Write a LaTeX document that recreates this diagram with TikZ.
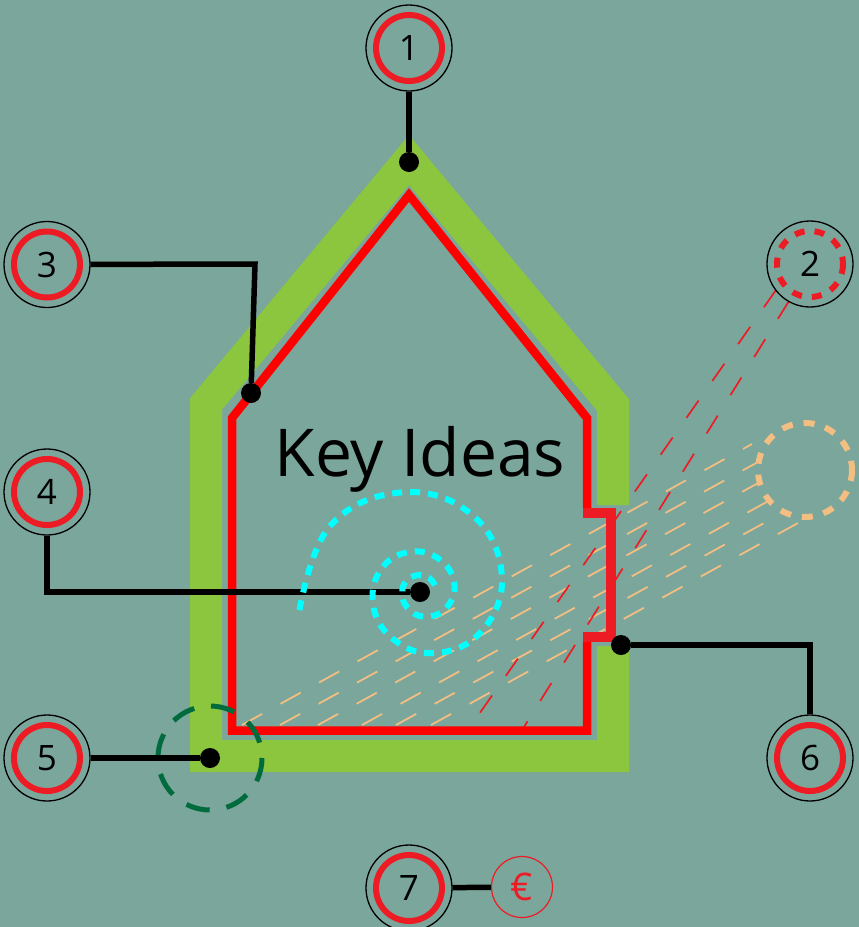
\documentclass[tikz,border=0pt]{standalone}
\usepackage{fontspec}
\setmainfont{Open Sans}
\definecolor{bg}{RGB}{123,166,156}
\definecolor{wallgreen}{RGB}{140,198,63}
\definecolor{housered}{RGB}{255,0,0}
\definecolor{ringred}{RGB}{237,28,36}
\definecolor{sand}{RGB}{242,190,130}
\definecolor{pine}{RGB}{0,107,60}
\definecolor{aqua}{RGB}{0,255,255}
\begin{document}
\begin{tikzpicture}[x=1pt,y=-1pt,
  wall/.style={draw=wallgreen, line width=32, line join=miter},
  outline/.style={draw=housered, line width=8.5, line join=miter},
  notchline/.style={draw=ringred, line width=10, line join=miter},
  sightred/.style={draw=ringred, line width=1.7, dash pattern=on 21 off 24},
  sightsand/.style={draw=sand, line width=1.8, dash pattern=on 23 off 21},
  badge/.style={circle, draw=black, line width=1.3, fill=bg, minimum size=86, inner sep=0,
    font=\fontsize{35}{35}\selectfont},
  ring/.style={draw=ringred, line width=6},
  dashring/.style={draw=ringred, line width=6, dash pattern=on 10 off 10},
  dot/.style={circle, fill=black, minimum size=20, inner sep=0},
  conn/.style={draw=black, line width=5.5},
  spiral/.style={draw=aqua, line width=6, dash pattern=on 10 off 8},
  euro/.style={circle, draw=ringred, line width=1.2, minimum size=61, inner sep=0,
    text=ringred, font=\fontsize{38}{38}\selectfont}]

% canvas
\fill[bg] (0,0) rectangle (859,927);
\useasboundingbox (0,0) rectangle (859,927);

% sand-coloured sight lines towards the right-hand circle
\draw[sightsand] (242,725) -- (752,444);
\draw[sightsand] (280,725) -- (758,462);
\draw[sightsand] (318,725) -- (760,482);
\draw[sightsand] (362,725) -- (772,499);
\draw[sightsand] (396,725) -- (786,511);
\draw[sightsand] (431,725) -- (798,523);

% red sight lines from marker 2
\draw[sightred] (776,290) -- (470,727);
\draw[sightred] (789,301) -- (524,727);

% outer wall band, open at the window
\draw[wall] (613,646) -- (613,756) -- (206,756) -- (206,404) -- (409,160) -- (613,405) -- (613,505);

% inner house outline
\draw[outline] (587,508) -- (587,418) -- (409,195) -- (232,418) -- (232,730.5) -- (587,730.5) -- (587,642);
\draw[notchline] (583,513) -- (610.5,513) -- (610.5,637) -- (583,637);

% dashed circles
\draw[pine, line width=5, dash pattern=on 24 off 17] (210,758) circle (52);
\draw[sand, line width=6, dash pattern=on 11 off 11] (805,470) circle (47);

% title
\node[anchor=base, font=\fontsize{66}{66}\selectfont] (title) at (420,476) {Key Ideas};

% numbered markers
\node[badge] (b1) at (409,48) {1};
\node[badge] (b2) at (810,264) {2};
\node[badge] (b3) at (47,264.5) {3};
\node[badge] (b4) at (47,492) {4};
\node[badge] (b5) at (47,758) {5};
\node[badge] (b6) at (810,758) {6};
\node[badge] (b7) at (409,888) {7};
\draw[ring] (b1.center) circle (33);
\draw[dashring] (b2.center) circle (33);
\draw[ring] (b3.center) circle (33);
\draw[ring] (b4.center) circle (33);
\draw[ring] (b5.center) circle (33);
\draw[ring] (b6.center) circle (33);
\draw[ring] (b7.center) circle (33);
\node[euro] (eur) at (522,887) {€};

% anchor dots
\node[dot] (d1) at (409,162) {};
\node[dot] (d3) at (251,393) {};
\node[dot] (d4) at (420,592) {};
\node[dot] (d5) at (210,758) {};
\node[dot] (d6) at (621,645) {};
\coordinate (k3) at (255,264);

% leader lines
\draw[conn] (b1) -- (d1);
\draw[conn] (b3) -- (k3) -- (d3);
\draw[conn] (b4) |- (d4);
\draw[conn] (b5) -- (d5);
\draw[conn] (d6) -| (b6);
\draw[conn] (b7) -- (eur);

% spiral around point 4
\draw[spiral] plot[smooth, tension=0.7] coordinates {
  (299.5,610.1) (330.2,525.8) (404.4,492.2) (474.1,516.6) (502.0,578.0)
  (479.1,633.9) (429.9,653.2) (388.3,634.7) (372.6,598.5) (384.4,565.1)
  (413.7,551.5) (441.7,561.1) (454.6,585.5) (445.1,609.2) (424.1,616.7)
  (407.7,608.0) (402.2,593.8) (406.2,581.0) (417.5,575.2) (429.4,578.1)
  (435.2,586.1)};
\end{tikzpicture}
\end{document}
